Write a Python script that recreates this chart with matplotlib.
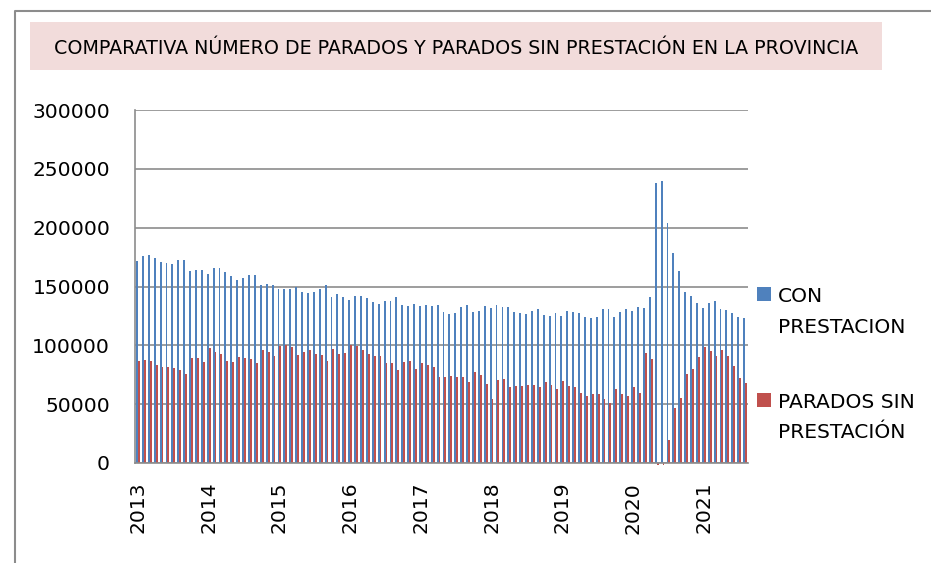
import numpy as np
import matplotlib
matplotlib.use('Agg')
import matplotlib.pyplot as plt
from matplotlib.patches import Rectangle
from matplotlib.lines import Line2D

# datos mensuales ene-2013 .. ago-2021
anios = ['2013', '2014', '2015', '2016', '2017', '2018', '2019', '2020', '2021']

con_prestacion = [
    172000, 176300, 176800, 174300, 171200, 170300, 169200, 172900, 172600, 163300, 164400, 164400,
    160700, 165300, 165300, 162400, 158800, 155100, 156800, 159900, 159600, 151400, 152300, 151400,
    148300, 148300, 148000, 149400, 145500, 144400, 145500, 148000, 151400, 141500, 143500, 141000,
    138700, 142100, 141800, 140400, 137000, 135300, 137900, 137900, 141200, 134200, 133600, 135300,
    133100, 134500, 133600, 134200, 128500, 126800, 127400, 132800, 134500, 128200, 129400, 133100,
    131400, 133900, 132800, 132500, 128500, 127100, 126800, 129400, 130800, 125400, 124600, 127100,
    124900, 129400, 128200, 127100, 124000, 122900, 124000, 131100, 130800, 123700, 128200, 130500,
    128800, 132800, 131400, 141500, 237900, 239800, 204200, 178800, 163300, 145200, 142100, 135600,
    131400, 136400, 137300, 130500, 129700, 127700, 124300, 122900,
]

sin_prestacion = [
    86400, 87600, 86700, 83100, 81600, 81900, 81100, 78800, 75400, 89000, 89300, 85900,
    97500, 94100, 92400, 87000, 86200, 89800, 89500, 88100, 85000, 95800, 94400, 91000,
    99400, 100000, 98600, 91800, 94600, 95800, 92900, 91800, 86400, 97200, 92700, 93800,
    100600, 99400, 96000, 92900, 91200, 90700, 85000, 85000, 79400, 85900, 87000, 79700,
    84700, 83600, 81400, 72900, 73400, 74000, 73400, 73400, 69200, 77700, 74600, 67500,
    54200, 70300, 71200, 65000, 65300, 65500, 66100, 66100, 64400, 68600, 66400, 62700,
    70100, 65800, 64400, 59900, 57300, 58500, 58500, 54200, 50600, 62700, 59000, 56800,
    64400, 59900, 93200, 88700, -1700, -1700, 19500, 46900, 55400, 75400, 80200, 89800,
    98600, 95500, 91000, 96300, 91000, 82500, 72000, 67800,
]

AZUL = '#4F81BD'
ROJO = '#C0504D'
GRIS = '#8C8C8C'

W, H = 931, 563
fx = lambda px: px / W
fy = lambda py: 1 - py / H

fig = plt.figure(figsize=(W / 100, H / 100), dpi=100)
ax = fig.add_axes([fx(135), fy(463), fx(748) - fx(135), fy(110) - fy(463)])

x = np.arange(len(con_prestacion))
# barras finas sin antialias para que todas se vean nitidas
ax.bar(x - 0.16, con_prestacion, width=0.32, color=AZUL, zorder=3, antialiased=False)
ax.bar(x + 0.16, sin_prestacion, width=0.32, color=ROJO, zorder=3, antialiased=False, clip_on=False)

ax.set_xlim(-0.5, len(x) - 0.5)
ax.set_ylim(0, 300000)
ax.set_yticks(np.arange(0, 300001, 50000))
ax.set_yticklabels([str(v) for v in range(0, 300001, 50000)])
ax.set_xticks(np.arange(0, len(x), 12))
ax.set_xticklabels(anios, rotation=90, va='top', ha='center')

ax.yaxis.grid(True, color=GRIS, lw=1.2, zorder=0)
ax.tick_params(axis='both', length=0, labelsize=14.6)
ax.tick_params(axis='y', pad=18)
ax.tick_params(axis='x', pad=13.5)
for s in ['top', 'right']:
    ax.spines[s].set_visible(False)
for s in ['left', 'bottom']:
    ax.spines[s].set_color(GRIS)
    ax.spines[s].set_linewidth(1.2)
    ax.spines[s].set_zorder(4)

# marco exterior
fig.add_artist(Line2D([fx(15), fx(15), 1.0], [0, fy(11), fy(11)],
                      transform=fig.transFigure, color=GRIS, lw=1.5))

# titulo con fondo rosa
fig.add_artist(Rectangle((fx(30), fy(70)), fx(882) - fx(30), fy(22) - fy(70),
                         transform=fig.transFigure, facecolor='#F2DCDB', edgecolor='none'))
fig.text(fx(456), fy(54), 'COMPARATIVA NÚMERO DE PARADOS Y PARADOS SIN PRESTACIÓN EN LA PROVINCIA',
         ha='center', va='baseline', fontsize=13.7)

# leyenda
fig.add_artist(Rectangle((fx(757), fy(301)), fx(771.5) - fx(757), fy(287) - fy(301),
                         transform=fig.transFigure, facecolor=AZUL, edgecolor='none'))
fig.add_artist(Rectangle((fx(757), fy(407)), fx(771.5) - fx(757), fy(393) - fy(407),
                         transform=fig.transFigure, facecolor=ROJO, edgecolor='none'))
fig.text(fx(778), fy(302), 'CON', va='baseline', fontsize=14.6)
fig.text(fx(778), fy(333), 'PRESTACION', va='baseline', fontsize=14.6)
fig.text(fx(778), fy(408), 'PARADOS SIN', va='baseline', fontsize=14.6)
fig.text(fx(778), fy(438), 'PRESTACIÓN', va='baseline', fontsize=14.6)

fig.savefig('out.png', dpi=100)
